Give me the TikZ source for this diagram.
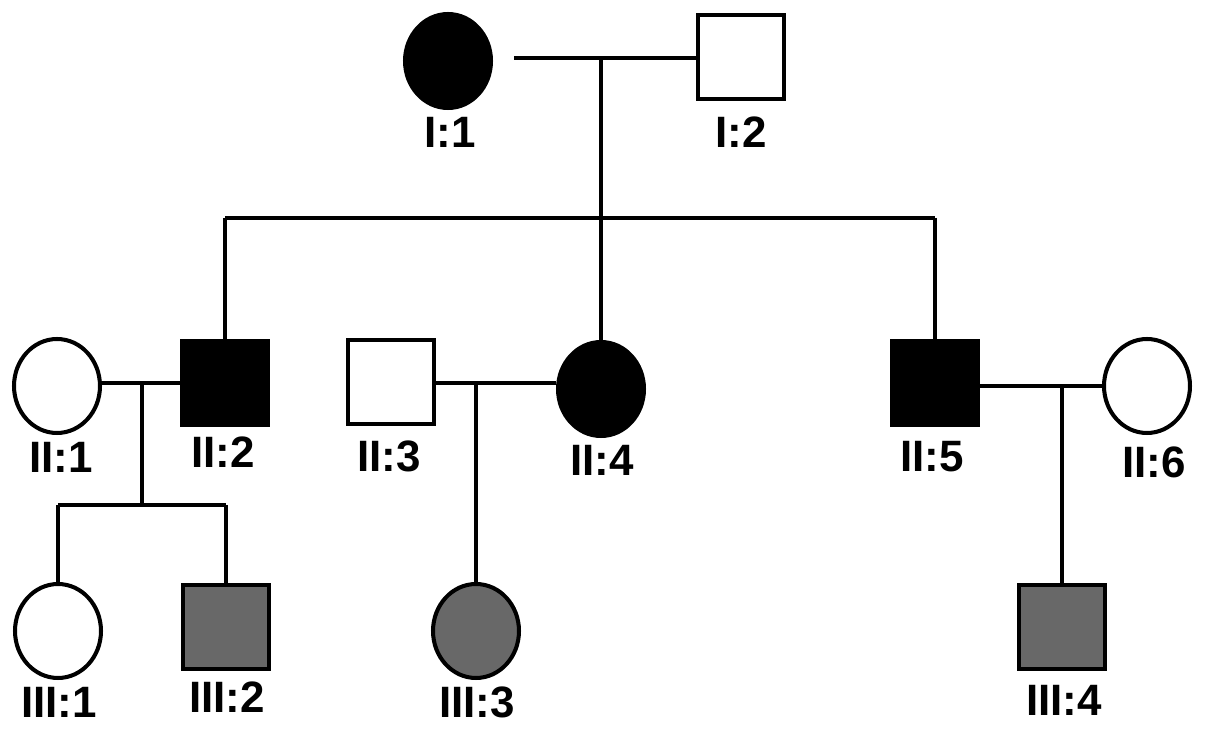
\documentclass[tikz,border=0pt]{standalone}
\usepackage{fontspec}
\setmainfont{Liberation Sans}
\usetikzlibrary{shapes.geometric}
\definecolor{affgray}{RGB}{104,104,104}
\begin{document}
\begin{tikzpicture}[x=0.02cm,y=-0.02cm,
  line width=2.3pt,
  male/.style={draw,rectangle,minimum width=1.72cm,minimum height=1.68cm,inner sep=0pt},
  female/.style={draw,ellipse,minimum width=1.72cm,minimum height=1.88cm,inner sep=0pt},
  aff/.style={fill=black},
  carr/.style={fill=affgray},
  lbl/.style={font=\fontsize{25}{30}\selectfont\bfseries,inner sep=0pt},
  rel/.style={line width=2.3pt}]
\useasboundingbox (0,0) rectangle (1205,732);
% Generation I
\node[female,aff] (I1) at (448,61) {};
\node[male] (I2) at (741,57) {};
\node[lbl] (lI1) at (450,132) {I:1};
\node[lbl] (lI2) at (741,132) {I:2};
% Generation II
\node[female] (II1) at (57,386) {};
\node[male,aff] (II2) at (225,383) {};
\node[male] (II3) at (391,382) {};
\node[female,aff] (II4) at (601,389) {};
\node[male,aff] (II5) at (935,383) {};
\node[female] (II6) at (1147,386) {};
\node[lbl] (lII1) at (61,457) {II:1};
\node[lbl] (lII2) at (223,452) {II:2};
\node[lbl] (lII3) at (389,456) {II:3};
\node[lbl] (lII4) at (602,460) {II:4};
\node[lbl] (lII5) at (932,457) {II:5};
\node[lbl] (lII6) at (1154,462) {II:6};
% Generation III
\node[female] (III1) at (58,631) {};
\node[male,carr] (III2) at (226,627) {};
\node[female,carr] (III3) at (476,631) {};
\node[male,carr] (III4) at (1062,627) {};
\node[lbl] (lIII1) at (59,702) {III:1};
\node[lbl] (lIII2) at (227,697) {III:2};
\node[lbl] (lIII3) at (477,702) {III:3};
\node[lbl] (lIII4) at (1064,700) {III:4};
% junction coordinates
\coordinate (m1) at (514,58);
\coordinate (j1) at (601,58);
\coordinate (s1) at (601,218);
\coordinate (j2) at (142,383);
\coordinate (s2) at (142,505);
\coordinate (j3) at (476,383);
\coordinate (j4) at (1062,386);
% connectors
\draw[rel] (m1) -- (I2.west |- m1);
\draw[rel] (j1) -- (s1);
\draw[rel] (II2.north |- s1) -- (II5.north |- s1);
\draw[rel] (II2.north |- s1) -- (II2.north);
\draw[rel] (s1) -- (II4.north);
\draw[rel] (II5.north |- s1) -- (II5.north);
\draw[rel] (II1.east |- j2) -- (II2.west |- j2);
\draw[rel] (j2) -- (s2);
\draw[rel] (III1.north |- s2) -- (III2.north |- s2);
\draw[rel] (III1.north |- s2) -- (III1.north);
\draw[rel] (III2.north |- s2) -- (III2.north);
\draw[rel] (II3.east |- j3) -- (II4.west |- j3);
\draw[rel] (j3) -- (III3.north);
\draw[rel] (II5.east |- j4) -- (II6.west |- j4);
\draw[rel] (j4) -- (III4.north);
\end{tikzpicture}
\end{document}
